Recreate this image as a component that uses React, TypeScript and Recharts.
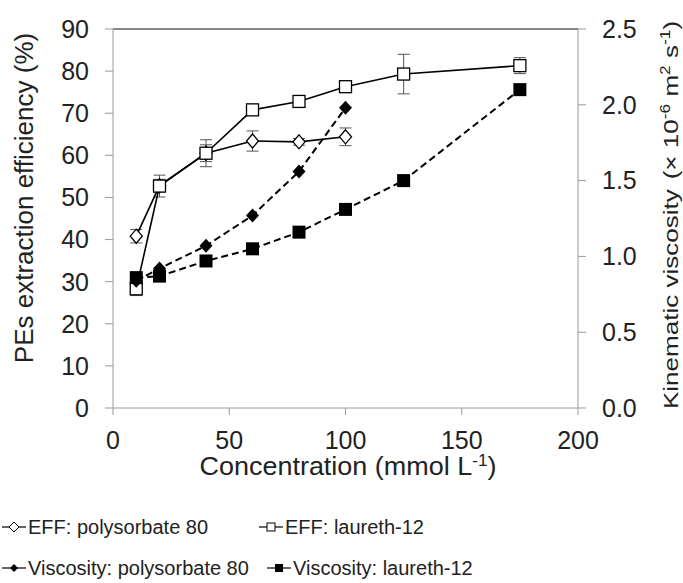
import React from 'react';
import {
  ComposedChart,
  Scatter,
  XAxis,
  YAxis,
  ErrorBar,
  ReferenceLine,
} from 'recharts';

// Surfactant concentrations (mmol L-1)
const concPolysorbate = [10, 20, 40, 60, 80, 100];
const concLaureth = [10, 20, 40, 60, 80, 100, 125, 175];

// PEs extraction efficiency (%) with standard deviations
const effPolysorbate = [40.8, 52.8, 60.5, 63.4, 63.2, 64.4];
const effPolysorbateSd = [1.6, 1.5, 2.0, 2.4, 0.8, 2.1];
const effLaureth = [28.3, 52.7, 60.5, 70.8, 72.8, 76.3, 79.3, 81.3];
const effLaurethSd = [1.6, 2.6, 3.2, 0.5, 0.5, 0.8, 4.7, 1.9];

// Kinematic viscosity (x 10^-6 m2 s-1)
const viscPolysorbate = [0.84, 0.92, 1.07, 1.27, 1.56, 1.98];
const viscLaureth = [0.86, 0.87, 0.97, 1.05, 1.16, 1.31, 1.5, 2.1];

const xTicks = [0, 50, 100, 150, 200];
const leftTicks = [0, 10, 20, 30, 40, 50, 60, 70, 80, 90];
const rightTicks = [0, 0.5, 1.0, 1.5, 2.0, 2.5];

const legendLabels = [
  'EFF: polysorbate 80',
  'EFF: laureth-12',
  'Viscosity: polysorbate 80',
  'Viscosity: laureth-12',
];

const FONT = '"Liberation Sans", Arial, sans-serif';
const AXIS_GREY = '#9a9a9a';

const zip = (xs: number[], ys: number[], errs?: number[]) =>
  xs.map((x, i) => ({ x, y: ys[i], err: errs ? errs[i] : 0 }));

const effPolyData = zip(concPolysorbate, effPolysorbate, effPolysorbateSd);
const effLaurData = zip(concLaureth, effLaureth, effLaurethSd);
const viscPolyData = zip(concPolysorbate, viscPolysorbate);
const viscLaurData = zip(concLaureth, viscLaureth);

const OpenDiamond = (p: any) => {
  const { cx, cy } = p;
  if (cx == null || cy == null) return null;
  const w = 6, h = 7;
  return (
    <polygon
      points={`${cx},${cy - h} ${cx + w},${cy} ${cx},${cy + h} ${cx - w},${cy}`}
      fill="#fff"
      stroke="#000"
      strokeWidth={1.3}
    />
  );
};

const OpenSquare = (p: any) => {
  const { cx, cy } = p;
  if (cx == null || cy == null) return null;
  const s = 12;
  return (
    <rect x={cx - s / 2} y={cy - s / 2} width={s} height={s} fill="#fff" stroke="#000" strokeWidth={1.3} />
  );
};

const FilledDiamond = (p: any) => {
  const { cx, cy } = p;
  if (cx == null || cy == null) return null;
  const w = 6.5, h = 7;
  return (
    <polygon
      points={`${cx},${cy - h} ${cx + w},${cy} ${cx},${cy + h} ${cx - w},${cy}`}
      fill="#000"
    />
  );
};

const FilledSquare = (p: any) => {
  const { cx, cy } = p;
  if (cx == null || cy == null) return null;
  const s = 13;
  return <rect x={cx - s / 2} y={cy - s / 2} width={s} height={s} fill="#000" />;
};

const tickStyle = { fontSize: 25, fill: '#222', fontFamily: FONT };

const LegendMarker = ({ kind }: { kind: number }) => {
  const cy = 10;
  let sym: React.ReactNode = null;
  if (kind === 0)
    sym = <polygon points="13,5 18,10 13,15 8,10" fill="#fff" stroke="#000" strokeWidth={1} />;
  if (kind === 1) sym = <rect x={9} y={6} width={8} height={8} fill="#fff" stroke="#000" strokeWidth={1} />;
  if (kind === 2) sym = <polygon points="13,6 17,10 13,14 9,10" fill="#000" />;
  if (kind === 3) sym = <rect x={9} y={6} width={8} height={8} fill="#000" />;
  return (
    <svg width={26} height={20} style={{ display: 'block' }}>
      <line x1={1} y1={cy} x2={25} y2={cy} stroke="#000" strokeWidth={1.2} />
      {sym}
    </svg>
  );
};

const legendPos = [
  { left: 1, top: 515 },
  { left: 258, top: 515 },
  { left: 1, top: 556 },
  { left: 266, top: 556 },
];

export default function App() {
  return (
    <div
      style={{
        position: 'absolute',
        left: 0,
        top: 0,
        width: 683,
        height: 583,
        overflow: 'hidden',
        background: '#fff',
      }}
    >
      <ComposedChart
        width={683}
        height={490}
        margin={{ top: 29, right: 0, bottom: 0, left: 0 }}
        style={{ fontFamily: FONT }}
      >
        <XAxis
          type="number"
          dataKey="x"
          domain={[0, 200]}
          ticks={xTicks}
          height={82}
          tick={tickStyle}
          tickSize={7}
          tickMargin={16}
          axisLine={{ stroke: AXIS_GREY }}
          tickLine={{ stroke: AXIS_GREY }}
          allowDataOverflow
        />
        <YAxis
          yAxisId="left"
          type="number"
          dataKey="y"
          domain={[0, 90]}
          ticks={leftTicks}
          width={113}
          tick={tickStyle}
          tickSize={8}
          tickMargin={16}
          axisLine={{ stroke: AXIS_GREY }}
          tickLine={{ stroke: AXIS_GREY }}
          allowDataOverflow
        />
        <YAxis
          yAxisId="right"
          orientation="right"
          type="number"
          dataKey="y"
          domain={[0, 2.5]}
          ticks={rightTicks}
          tickFormatter={(v: number) => v.toFixed(1)}
          width={105}
          tick={tickStyle}
          tickSize={8}
          tickMargin={16}
          axisLine={{ stroke: AXIS_GREY }}
          tickLine={{ stroke: AXIS_GREY }}
          allowDataOverflow
        />
        <ReferenceLine yAxisId="left" y={90} stroke="#111" strokeWidth={1} />

        <Scatter
          yAxisId="left"
          data={effPolyData}
          line={{ stroke: '#000', strokeWidth: 1.6 }}
          lineType="joint"
          shape={OpenDiamond}
          isAnimationActive={false}
        >
          <ErrorBar dataKey="err" direction="y" width={6} stroke="#555" strokeWidth={1} />
        </Scatter>
        <Scatter
          yAxisId="left"
          data={effLaurData}
          line={{ stroke: '#000', strokeWidth: 1.6 }}
          lineType="joint"
          shape={OpenSquare}
          isAnimationActive={false}
        >
          <ErrorBar dataKey="err" direction="y" width={6} stroke="#555" strokeWidth={1} />
        </Scatter>
        <Scatter
          yAxisId="right"
          data={viscPolyData}
          line={{ stroke: '#000', strokeWidth: 2, strokeDasharray: '7 4' }}
          lineType="joint"
          shape={FilledDiamond}
          isAnimationActive={false}
        />
        <Scatter
          yAxisId="right"
          data={viscLaurData}
          line={{ stroke: '#000', strokeWidth: 2, strokeDasharray: '7 4' }}
          lineType="joint"
          shape={FilledSquare}
          isAnimationActive={false}
        />
      </ComposedChart>

      {/* axis titles */}
      <svg
        width={683}
        height={490}
        style={{ position: 'absolute', left: 0, top: 0, pointerEvents: 'none', fontFamily: FONT }}
      >
        <text
          x={348}
          y={475}
          textAnchor="middle"
          fontSize={25}
          fill="#222"
          textLength={297}
          lengthAdjust="spacingAndGlyphs"
        >
          Concentration (mmol L
          <tspan dy={-9} fontSize={16}>-1</tspan>
          <tspan dy={9}>)</tspan>
        </text>
        <g transform="translate(33 198) rotate(-90) scale(1.04 1)">
          <text x={0} y={0} textAnchor="middle" fontSize={25} fill="#222">
            PEs extraction efficiency (%)
          </text>
        </g>
        <g transform="translate(678 215) rotate(-90) scale(1.24 1)">
          <text x={0} y={0} textAnchor="middle" fontSize={21} fill="#222">
            Kinematic viscosity
            <tspan dx={8}>(× 10</tspan>
            <tspan dy={-8} fontSize={14}>-6</tspan>
            <tspan dy={8}> m</tspan>
            <tspan dy={-8} fontSize={14}>2</tspan>
            <tspan dy={8}> s</tspan>
            <tspan dy={-8} fontSize={14}>-1</tspan>
            <tspan dy={8}>)</tspan>
          </text>
        </g>
      </svg>

      {/* legend */}
      {legendLabels.map((label, i) => (
        <div
          key={label}
          style={{
            position: 'absolute',
            left: legendPos[i].left,
            top: legendPos[i].top,
            height: 24,
            display: 'flex',
            alignItems: 'center',
            fontFamily: FONT,
            fontSize: 20,
            color: '#222',
            whiteSpace: 'nowrap',
          }}
        >
          <LegendMarker kind={i} />
          <span style={{ marginLeft: 1 }}>{label}</span>
        </div>
      ))}
    </div>
  );
}
